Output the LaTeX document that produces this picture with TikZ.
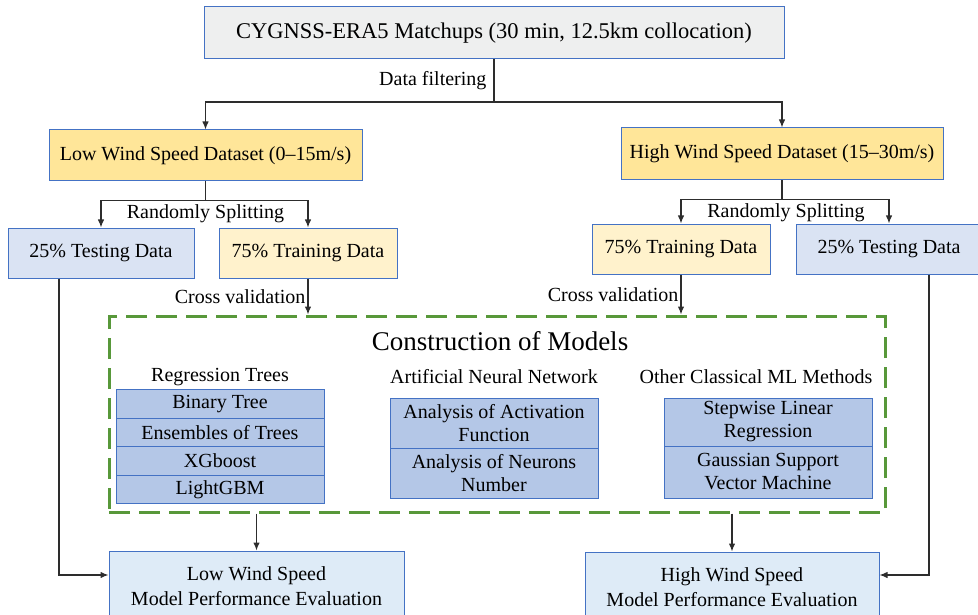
\documentclass[tikz,border=0pt]{standalone}
\usepackage{fontspec}
\setmainfont{Liberation Serif}
\usepackage{tikz}
\usetikzlibrary{positioning,arrows.meta}
\definecolor{edgeblue}{RGB}{68,114,196}
\definecolor{matchgray}{RGB}{238,239,239}
\definecolor{lowgold}{RGB}{255,230,153}
\definecolor{trainyellow}{RGB}{255,242,204}
\definecolor{testblue}{RGB}{218,227,243}
\definecolor{listblue}{RGB}{180,199,231}
\definecolor{evalblue}{RGB}{222,235,247}
\definecolor{dashgreen}{RGB}{88,152,58}
\definecolor{linegray}{RGB}{45,45,45}

\begin{document}
\begin{tikzpicture}[x=1pt,y=-1pt,>={Latex[length=8pt,width=6.5pt]},
  font=\fontsize{20}{23}\selectfont,
  main node/.style={draw=edgeblue,line width=1pt,inner sep=0pt,minimum height=50pt,align=center},
  list node/.style={draw=edgeblue,fill=listblue,line width=1pt,inner sep=0pt,outer sep=0pt,
    minimum width=208pt,minimum height=28.5pt,align=center},
  lbl/.style={inner sep=2pt},
  conn/.style={draw=linegray,line width=1.2pt}]

  \useasboundingbox (0,0) rectangle (978,615);

  \node[main node,fill=matchgray,minimum width=580pt,minimum height=52pt,
    font=\fontsize{22.5}{26}\selectfont] (top) at (494,33)
    {CYGNSS-ERA5 Matchups (30 min, 12.5km collocation)};
  \node[main node,fill=lowgold,minimum width=313pt,minimum height=51pt] (low) at (205.5,155.5)
    {Low Wind Speed Dataset (0--15m/s)};
  \node[main node,fill=lowgold,minimum width=322pt,minimum height=52pt] (high) at (782,154)
    {High Wind Speed Dataset (15--30m/s)};
  \node[main node,fill=testblue,minimum width=186pt] (lowtest) at (101,253) {25\% Testing Data};
  \node[main node,fill=trainyellow,minimum width=178pt] (lowtrain) at (308,253) {75\% Training Data};
  \node[main node,fill=trainyellow,minimum width=178pt] (hightrain) at (681,249) {75\% Training Data};
  \node[main node,fill=testblue,minimum width=186pt] (hightest) at (889,249) {25\% Testing Data};

  % models frame
  \node[draw=dashgreen,line width=3pt,dash pattern=on 21pt off 9pt,inner sep=0pt,
    minimum width=776pt,minimum height=196pt] (models) at (497,414) {};
  \node[font=\fontsize{27}{30}\selectfont] (title) at (500,341) {Construction of Models};
  \node (rthead) at (220,377) {Regression Trees};
  \node (annhead) at (494,377) {Artificial Neural Network};
  \node (othhead) at (756,377) {Other Classical ML Methods};

  \node[list node] (bt) at (220,404) {Binary Tree};
  \node[list node,below=0pt of bt] (et) {Ensembles of Trees};
  \node[list node,below=0pt of et] (xgb) {XGboost};
  \node[list node,below=0pt of xgb] (lgbm) {LightGBM};

  \node[list node,minimum height=50pt] (act) at (494,423) {Analysis of Activation\\Function};
  \node[list node,minimum height=50pt,below=0pt of act] (neu) {Analysis of Neurons\\Number};

  \node[list node,minimum height=48pt] (swr) at (768,422) {Stepwise Linear\\Regression};
  \node[list node,minimum height=52pt,below=0pt of swr] (gsvm) {Gaussian Support\\Vector Machine};

  \node[main node,fill=evalblue,minimum width=295pt,minimum height=70pt,
    font=\fontsize{20}{25}\selectfont] (loweval) at (256.5,586)
    {Low Wind Speed\\Model Performance Evaluation};
  \node[main node,fill=evalblue,minimum width=294pt,minimum height=70pt,
    font=\fontsize{20}{25}\selectfont] (higheval) at (732,587)
    {High Wind Speed\\Model Performance Evaluation};

  \coordinate (filt) at (494,102);
  \coordinate (lsplit) at ([yshift=-19pt]low.south);
  \coordinate (hsplit) at ([yshift=-19pt]high.south);

  \draw[conn] (top) -- node[lbl,left,inner xsep=7pt] (filtlbl) {Data filtering} (filt);
  \draw[conn,->] (filt) -| (low);
  \draw[conn,->] (filt) -| (high);

  \draw[conn] (low) -- (lsplit);
  \draw[conn,->] (lsplit) -| (lowtest);
  \draw[conn,->] (lsplit) -| (lowtrain);
  \node[lbl,below,inner ysep=4pt] (lsplitlbl) at (lsplit) {Randomly Splitting};

  \draw[conn] (high) -- (hsplit);
  \draw[conn,->] (hsplit) -| (hightrain);
  \draw[conn,->] (hsplit) -| (hightest);
  \node[lbl,below,inner ysep=4pt] (hsplitlbl) at ([xshift=4pt]hsplit) {Randomly Splitting};

  \draw[conn,->] (lowtrain) -- node[lbl,left] (lcross) {Cross validation} (lowtrain |- models.north);
  \draw[conn,->] (hightrain) -- node[lbl,left] (hcross) {Cross validation} (hightrain |- models.north);
  \draw[conn,->] (models.south -| loweval.north) -- (loweval.north);
  \draw[conn,->] (models.south -| higheval.north) -- (higheval.north);

  \draw[conn,->] ([xshift=-42pt]lowtest.south) |- ([yshift=11pt]loweval.west);
  \draw[conn,->] ([xshift=40pt]hightest.south) |- ([yshift=12pt]higheval.east);
\end{tikzpicture}
\end{document}
